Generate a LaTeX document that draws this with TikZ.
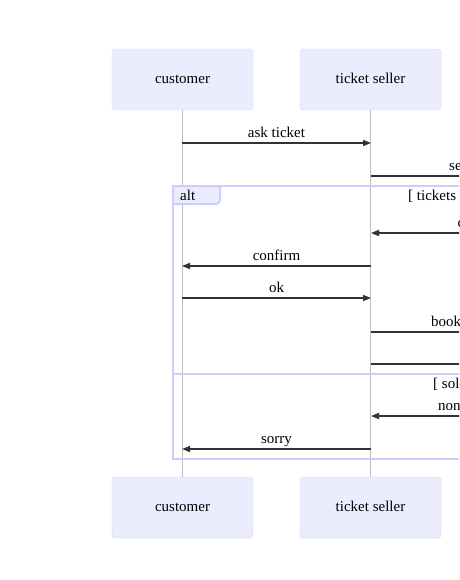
\documentclass[tikz,border=0pt]{standalone}
\usepackage{fontspec}
\setmainfont{Liberation Serif}
\usetikzlibrary{arrows.meta}
\definecolor{actorbg}{HTML}{ECECFF}
\definecolor{actorline}{HTML}{D4D4F7}
\definecolor{framecol}{HTML}{CCCCFF}
\definecolor{msgcol}{HTML}{333333}
\tikzset{
  actor/.style={rectangle,rounded corners=3pt,draw=actorline,fill=actorbg,
    minimum width=141pt,minimum height=61pt,text height=8pt,text depth=0pt,
    font=\fontsize{15}{18}\selectfont},
  life/.style={draw=gray!50,line width=1pt},
  msg/.style={draw=msgcol,line width=1.5pt,-{Triangle[length=8pt,width=6pt]}},
  msglbl/.style={above,inner sep=0pt,text depth=0pt,yshift=5pt,
    font=\fontsize{15}{18}\selectfont},
  cutlbl/.style={anchor=base west,inner sep=0pt,font=\fontsize{15}{18}\selectfont},
  frame/.style={draw=framecol,line width=2pt}
}
\begin{document}
\begin{tikzpicture}[x=1pt,y=-1pt]
      \useasboundingbox (0,0) rectangle (459,580);
      \clip (0,0) rectangle (459,580);

      \begin{scope}[every node/.style={actor}]
        \node (cust)  at (182.5,79.5)  {customer};
        \node (sell)  at (370.5,79.5)  {ticket seller};
        \node (custb) at (182.5,507.5) {customer};
        \node (sellb) at (370.5,507.5) {ticket seller};
      \end{scope}

      \path[life] (cust) -- (custb);
      \path[life] (sell) -- (sellb);

      % alt frame
      \draw[frame] (173,186) rectangle (620,459);
      \draw[frame] (173,374) -- (620,374);
      \draw[frame,fill=actorbg] (173,186) -- (220,186) -- (220,201) -- (217,204)
        -- (173,204) -- cycle;
      \node[cutlbl] (alt)   at (180,200) {alt};
      \node[cutlbl] (cond1) at (408,200) {[ tickets available ]};
      \node[cutlbl] (cond2) at (433,388) {[ sold out ]};

      \coordinate (c1) at (182,143);
      \coordinate (s1) at (371,143);
      \coordinate (s2) at (371,176);
      \coordinate (x2) at (580,176);
      \coordinate (x3) at (580,233);
      \coordinate (s3) at (371,233);
      \coordinate (s4) at (371,266);
      \coordinate (c4) at (182,266);
      \coordinate (c5) at (182,298);
      \coordinate (s5) at (371,298);
      \coordinate (s6) at (371,332);
      \coordinate (x6) at (580,332);
      \coordinate (s7) at (371,364);
      \coordinate (x7) at (580,364);
      \coordinate (x8) at (580,416);
      \coordinate (s8) at (371,416);
      \coordinate (s9) at (371,449);
      \coordinate (c9) at (182,449);

      \begin{scope}[every edge/.style={msg}]
        \path (c1) edge node[msglbl] {ask ticket} (s1);
        \path (s2) edge (x2);
        \path (x3) edge (s3);
        \path (s4) edge node[msglbl] {confirm} (c4);
        \path (c5) edge node[msglbl] {ok} (s5);
        \path (s6) edge (x6);
        \path (s7) edge (x7);
        \path (x8) edge (s8);
        \path (s9) edge node[msglbl] {sorry} (c9);
      \end{scope}

      \node[cutlbl] (l2) at (449,170.5) {search};
      \node[cutlbl] (l3) at (457.5,227.5) {count};
      \node[cutlbl] (l6) at (431,326.5) {book seat};
      \node[cutlbl] (l8) at (438,410.5) {none left};

    \end{tikzpicture}
\end{document}
